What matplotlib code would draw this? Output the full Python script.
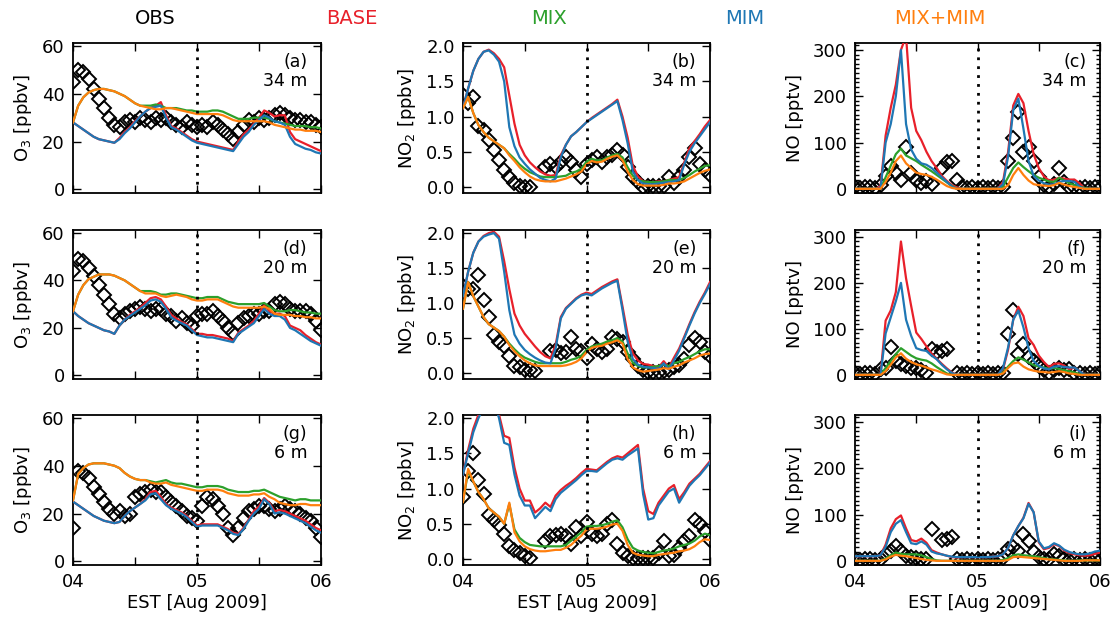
import numpy as np
import matplotlib
matplotlib.use('Agg')
import matplotlib.pyplot as plt
from matplotlib.ticker import MultipleLocator, FuncFormatter, NullLocator

nan = np.nan

# hourly samples, 04 Aug 00 EST -> 06 Aug 00 EST
hours = np.arange(49)
heights = ['34 m', '20 m', '6 m']
runs = ['BASE', 'MIX', 'MIM', 'MIX+MIM']
day_labels = ['04', '05', '06']

# ---- O3 [ppbv] ----
o3_34_obs = [45, 50, 49, 46, 42, 38, 34, 30, 27, 26, 28, 29,
             28, 30, 29, 28, 30, 29, 30, 28, 27, 26, 28, 27,
             26, 27, 26, 28, 27, 25, 23, 21, 24, 27, 29, 28,
             30, 29, 30, 31, 32, 31, 30, 29, 29, 28, 28, 27, 26]
o3_34_base = [28, 26.5, 25, 23.5, 22, 21, 20.5, 20, 19.5, 21.5, 24, 26,
              28.5, 30.5, 32.5, 34, 35, 36.5, 31, 26.5, 25.5, 24, 22.5, 21,
              20, 19.5, 19, 18.5, 18, 17.5, 17, 16.5, 20, 23, 25, 27.5,
              30, 33, 32, 30.5, 31, 31, 24, 21, 20, 19, 18, 17, 16]
o3_34_mim = [28, 26.5, 25, 23.5, 22, 21, 20.5, 20, 19.5, 21, 23.5, 25.5,
             28, 30.5, 32.5, 34, 34.5, 35, 30, 26, 25, 23.5, 22, 20.5,
             19.5, 19, 18.5, 18, 17.5, 17, 16.5, 16, 19, 22, 24, 27,
             29, 31, 30, 28.5, 28, 27, 22, 19, 18, 17, 16.5, 15.5, 15]
o3_34_mix = [28, 35, 38.5, 40.5, 41.5, 42, 42, 41.5, 41, 40, 39, 37.5,
             36, 35, 35, 35, 35.5, 35, 34, 34, 34, 33.5, 33, 33,
             32.5, 32.5, 32.5, 33, 33, 32.5, 31.5, 30.5, 29.5, 29.5, 29.5, 30,
             30, 30, 29.5, 28.5, 28, 27.5, 27, 26.5, 26.5, 26.5, 26, 26, 25.5]
o3_34_mixmim = [28, 35, 38.5, 40.5, 41.5, 42, 42, 41.5, 41, 40, 39, 37.5,
                36, 35, 34.5, 34, 33.5, 33.5, 34, 34, 33.5, 33, 32.5, 32,
                31.5, 31.5, 31.5, 31.5, 31.5, 31, 30, 29, 28.5, 28.5, 28.5, 28.5,
                28.5, 28.5, 28, 27, 26.5, 26, 25.5, 25, 25, 24.5, 24.5, 24.5, 24]

o3_20_obs = [44, 49, 48, 45, 42, 38, 34, 30, 26, 24, 26, 27,
             28, 29, 28, 27, 28, 28, 26, 25, 23, 24, 22, 21,
             25, 26, 26, 27, 25, 23, 20, 18, 22, 24, 25, 26,
             26, 27, 27, 30, 31, 30, 28, 27, 27, 27, 26, 23, 19]
o3_20_base = [27, 25, 23.5, 22, 21, 20, 19, 18.5, 17.5, 21, 23.5, 25.5,
              27, 28.5, 30.5, 32.5, 33, 32, 29, 25.5, 24, 22.5, 21.5, 19.5,
              17.5, 17.5, 17, 17, 16.5, 16, 15.5, 14.5, 18, 19.5, 21, 23,
              26, 29.5, 27, 26, 26, 25, 21, 20, 19, 17, 15.5, 14, 13]
o3_20_mim = [27, 25, 23.5, 22, 21, 20, 19, 18.5, 17.5, 21, 23.5, 25,
             26.5, 28, 29.5, 31.5, 32, 31, 28, 24.5, 23, 22, 21, 19,
             17, 16.5, 16, 16, 15.5, 15, 14.5, 14, 17.5, 19, 20.5, 22,
             25, 28, 26, 25, 25, 23.5, 20, 19, 17.5, 16, 14.5, 13.5, 12.5]
o3_20_mix = [27, 34, 38, 40.5, 41.5, 42.5, 42.5, 42.5, 42, 41, 40, 38.5,
             37, 35.5, 35.5, 35.5, 35, 34, 34, 34.5, 34.5, 34, 33.5, 33,
             32.5, 32.5, 33, 33, 33, 32, 31, 30.5, 30, 30, 30, 30,
             30, 30.5, 29, 27.5, 27, 27, 27.5, 27.5, 27, 26.5, 26.5, 26, 26]
o3_20_mixmim = [27, 34, 38, 40.5, 41.5, 42.5, 42.5, 42.5, 42, 41, 40, 38.5,
                37, 35.5, 34.5, 34.5, 34.5, 33.5, 33, 33.5, 34, 33.5, 33, 32,
                31.5, 31.5, 32, 32, 32, 31, 30, 29, 28.5, 28.5, 28.5, 28.5,
                28.5, 29, 28, 26, 25.5, 25.5, 25.5, 25, 25, 24.5, 24.5, 24, 24]

o3_6_obs = [14, 38, 37, 35, 31, 28, 25, 22, 20, 21, 19, 20,
            27, 28, 29, 30, 29, 29, 27, 25, 23, 21, 19, 18,
            17, 23, 27, 26, 23, 20, 14, 11, 14, 18, 21, 22,
            23, 23, 22, 21, 22, 23, 22, 21, 20, 18, 17, 14, 10]
o3_6_base = [25, 23.5, 22, 20.5, 19, 18, 17, 16.5, 16, 16.5, 19, 21,
             22.5, 24, 26, 29, 29.5, 27, 24, 22.5, 21.5, 20.5, 19, 17,
             15, 15.5, 15.5, 15.5, 15.5, 14.5, 13.5, 12, 11.5, 14, 17.5, 21,
             23, 26.5, 24.5, 21, 21.5, 21, 20, 19, 18, 17, 15.5, 14, 13]
o3_6_mim = [25, 23.5, 22, 20.5, 19, 18, 17, 16.5, 16, 16.5, 19, 21,
            22.5, 24, 25.5, 28, 28.5, 26, 23.5, 22, 21, 20, 18.5, 16.5,
            14.5, 15, 15, 15, 15, 14, 13, 11.5, 11, 13.5, 17, 20,
            22, 26, 24, 20, 20.5, 20, 19, 18, 17, 16, 14.5, 13, 12]
o3_6_mix = [25.5, 36.5, 39, 40.5, 41, 41, 41, 40.5, 40, 39, 37, 35.5,
            34.5, 34, 34, 33.5, 33, 33.5, 34, 33, 32.5, 32.5, 32, 31.5,
            31, 31, 31.5, 31.5, 31.5, 31, 30, 29.5, 29, 29, 29, 29.5,
            29.5, 30, 29, 28, 27, 26.5, 26, 25.5, 26, 26, 25.5, 25.5, 25.5]
o3_6_mixmim = [25.5, 36.5, 39, 40.5, 41, 41, 41, 40.5, 40, 39, 37, 35.5,
               34.5, 34, 34, 33, 32.5, 32.5, 33, 32, 31.5, 31, 30.5, 30,
               29.5, 29.5, 30, 30, 30, 29.5, 28.5, 28, 27.5, 27.5, 27.5, 28,
               28, 28.5, 27, 26, 24.5, 24, 23.5, 23.5, 24, 24, 23.5, 23.5, 23.5]

# ---- NO2 [ppbv] ----
no2_34_obs = [1.3, 1.2, 1.28, 0.86, 0.81, 0.67, 0.52, 0.38, 0.24, 0.14, 0.05, 0.02,
              0.0, 0.0, nan, nan, 0.29, 0.33, 0.29, 0.36, 0.43, 0.36, 0.24, 0.14,
              0.33, 0.38, 0.43, 0.36, 0.43, 0.45, 0.52, 0.45, 0.29, 0.14, 0.07, 0.0,
              0.02, 0.02, 0.02, 0.02, 0.14, 0.05, 0.14, 0.24, 0.43, 0.55, 0.33, 0.24, 0.17]
no2_34_base = [1.12, 1.4, 1.65, 1.82, 1.92, 1.95, 1.9, 1.82, 1.7, 1.3, 0.9, 0.6,
               0.45, 0.35, 0.28, 0.22, 0.18, 0.16, 0.17, 0.45, 0.6, 0.72, 0.78, 0.85,
               0.92, 0.98, 1.03, 1.08, 1.13, 1.18, 1.24, 1.0, 0.7, 0.3, 0.15, 0.08,
               0.07, 0.07, 0.08, 0.08, 0.1, 0.12, 0.14, 0.35, 0.55, 0.65, 0.75, 0.86, 0.95]
no2_34_mim = [1.12, 1.4, 1.65, 1.82, 1.92, 1.94, 1.88, 1.78, 1.5, 0.85, 0.58, 0.42,
              0.33, 0.25, 0.19, 0.13, 0.1, 0.08, 0.12, 0.42, 0.6, 0.72, 0.78, 0.85,
              0.92, 0.97, 1.02, 1.07, 1.12, 1.17, 1.22, 0.95, 0.62, 0.22, 0.1, 0.05,
              0.04, 0.04, 0.05, 0.06, 0.07, 0.08, 0.1, 0.32, 0.5, 0.62, 0.72, 0.82, 0.92]
no2_34_mix = [1.12, 1.28, 1.05, 0.88, 0.78, 0.7, 0.65, 0.6, 0.55, 0.47, 0.4, 0.32,
              0.26, 0.21, 0.18, 0.15, 0.14, 0.14, 0.14, 0.15, 0.16, 0.2, 0.22, 0.26,
              0.36, 0.4, 0.38, 0.38, 0.42, 0.45, 0.47, 0.42, 0.28, 0.16, 0.1, 0.08,
              0.07, 0.07, 0.07, 0.08, 0.1, 0.1, 0.1, 0.13, 0.17, 0.22, 0.26, 0.3, 0.31]
no2_34_mixmim = [1.12, 1.28, 1.05, 0.88, 0.78, 0.7, 0.65, 0.6, 0.55, 0.45, 0.37, 0.28,
                 0.21, 0.15, 0.11, 0.09, 0.08, 0.08, 0.08, 0.1, 0.12, 0.15, 0.18, 0.22,
                 0.32, 0.37, 0.35, 0.36, 0.4, 0.43, 0.45, 0.38, 0.22, 0.1, 0.04, 0.02,
                 0.02, 0.02, 0.02, 0.03, 0.05, 0.05, 0.06, 0.08, 0.12, 0.16, 0.2, 0.23, 0.25]

no2_20_obs = [1.25, 1.2, 1.2, 1.4, 1.05, 0.8, 0.55, 0.45, 0.38, 0.25, 0.1, 0.08,
              0.05, 0.05, 0.03, nan, nan, 0.31, 0.33, 0.28, 0.3, 0.52, 0.35, 0.31,
              0.21, 0.42, 0.35, 0.3, 0.35, 0.52, 0.48, 0.45, 0.3, 0.2, 0.1, 0.05,
              0.02, 0.02, 0.02, 0.03, 0.05, 0.08, 0.12, 0.2, 0.4, 0.5, 0.45, 0.3, 0.25]
no2_20_base = [1.1, 1.45, 1.72, 1.88, 1.96, 2.0, 2.02, 1.95, 1.6, 1.2, 0.85, 0.68,
               0.56, 0.47, 0.38, 0.3, 0.24, 0.21, 0.4, 0.8, 0.93, 1.0, 1.07, 1.12,
               1.15, 1.13, 1.18, 1.23, 1.27, 1.31, 1.34, 0.95, 0.55, 0.28, 0.18, 0.13,
               0.12, 0.1, 0.08, 0.17, 0.08, 0.22, 0.35, 0.52, 0.7, 0.87, 1.02, 1.15, 1.3]
no2_20_mim = [1.1, 1.45, 1.72, 1.88, 1.95, 1.98, 2.0, 1.92, 1.45, 0.9, 0.55, 0.42,
              0.33, 0.27, 0.22, 0.18, 0.15, 0.14, 0.35, 0.78, 0.92, 0.99, 1.06, 1.11,
              1.13, 1.11, 1.16, 1.21, 1.25, 1.29, 1.32, 0.9, 0.45, 0.2, 0.12, 0.09,
              0.08, 0.07, 0.06, 0.14, 0.05, 0.18, 0.32, 0.5, 0.68, 0.85, 1.0, 1.13, 1.27]
no2_20_mix = [0.92, 1.3, 1.1, 0.95, 0.8, 0.7, 0.65, 0.6, 0.52, 0.42, 0.34, 0.27,
              0.22, 0.19, 0.16, 0.14, 0.14, 0.14, 0.14, 0.14, 0.16, 0.19, 0.21, 0.25,
              0.33, 0.38, 0.4, 0.42, 0.45, 0.47, 0.5, 0.45, 0.28, 0.15, 0.1, 0.08,
              0.08, 0.09, 0.1, 0.12, 0.1, 0.14, 0.16, 0.2, 0.23, 0.27, 0.31, 0.34, 0.34]
no2_20_mixmim = [0.92, 1.3, 1.1, 0.95, 0.8, 0.7, 0.65, 0.6, 0.52, 0.4, 0.31, 0.24,
                 0.18, 0.14, 0.11, 0.1, 0.1, 0.1, 0.1, 0.1, 0.11, 0.13, 0.16, 0.21,
                 0.3, 0.36, 0.38, 0.39, 0.42, 0.44, 0.47, 0.42, 0.2, 0.08, 0.04, 0.02,
                 0.03, 0.04, 0.05, 0.07, 0.06, 0.09, 0.11, 0.15, 0.18, 0.21, 0.25, 0.27, 0.28]

no2_6_obs = [0.88, 1.25, 1.5, 1.12, 0.93, 0.62, 0.55, 0.48, 0.36, 0.18, 0.13, 0.08,
             0.04, 0.01, nan, nan, 0.25, 0.32, 0.34, 0.36, 0.32, 0.22, 0.46, 0.32,
             0.53, 0.36, 0.32, 0.36, 0.5, 0.55, 0.22, 0.08, 0.04, 0.02, 0.02, 0.02,
             0.02, 0.02, 0.08, 0.25, 0.04, 0.05, 0.15, 0.25, 0.32, 0.55, 0.5, 0.4, 0.27]
no2_6_base = [1.2, 1.55, 1.85, 2.05, 2.2, 2.3, 2.3, 2.05, 1.75, 1.72, 1.3, 1.0,
              0.83, 0.83, 0.66, 0.72, 0.8, 0.74, 0.9, 0.98, 1.04, 1.09, 1.15, 1.22,
              1.28, 1.27, 1.26, 1.32, 1.38, 1.43, 1.46, 1.44, 1.5, 1.56, 1.62, 1.0,
              0.68, 0.64, 0.8, 0.9, 1.0, 1.05, 0.85, 0.95, 1.07, 1.14, 1.21, 1.3, 1.39]
no2_6_mim = [1.2, 1.5, 1.8, 2.0, 2.15, 2.25, 2.25, 2.0, 1.65, 1.62, 1.2, 0.9,
             0.76, 0.76, 0.58, 0.66, 0.74, 0.68, 0.85, 0.94, 1.0, 1.06, 1.12, 1.19,
             1.25, 1.25, 1.24, 1.3, 1.36, 1.41, 1.43, 1.41, 1.47, 1.52, 1.57, 0.92,
             0.56, 0.58, 0.76, 0.86, 0.96, 1.0, 0.8, 0.92, 1.04, 1.12, 1.19, 1.28, 1.37]
no2_6_mix = [0.81, 1.25, 1.1, 0.95, 0.85, 0.72, 0.66, 0.6, 0.5, 0.78, 0.42, 0.3,
             0.24, 0.2, 0.19, 0.18, 0.18, 0.18, 0.18, 0.18, 0.2, 0.26, 0.32, 0.38,
             0.46, 0.47, 0.47, 0.48, 0.5, 0.53, 0.55, 0.45, 0.28, 0.16, 0.12, 0.1,
             0.09, 0.08, 0.1, 0.12, 0.13, 0.15, 0.18, 0.2, 0.22, 0.26, 0.32, 0.36, 0.34]
no2_6_mixmim = [0.81, 1.28, 1.1, 0.95, 0.85, 0.72, 0.66, 0.6, 0.5, 0.8, 0.38, 0.25,
                0.18, 0.14, 0.12, 0.11, 0.11, 0.12, 0.13, 0.13, 0.16, 0.2, 0.27, 0.33,
                0.42, 0.43, 0.43, 0.44, 0.46, 0.49, 0.5, 0.4, 0.2, 0.09, 0.06, 0.05,
                0.04, 0.04, 0.06, 0.07, 0.08, 0.09, 0.11, 0.12, 0.14, 0.18, 0.24, 0.28, 0.27]

# ---- NO [pptv] ----
no_34_obs = [3, 2, 4, 3, 2, 8, 28, 49, 35, 20, 90, 35,
             20, 13, 17, 10, nan, 46, 57, 60, 20, 3, 2, 3,
             2, 3, 2, 3, 2, 5, 60, 110, 165, 80, 90, 60,
             25, 8, 5, 10, 45, 15, 3, 4, 2, 3, 2, 3, 2]
no_34_base = [0, 0, 0, 0, 0, 5, 115, 175, 225, 300, 330, 175,
              125, 105, 80, 60, 45, 28, 17, 8, 3, 0, 0, 0,
              0, 0, 0, 0, 0, 15, 80, 180, 205, 185, 125, 75,
              45, 27, 18, 20, 24, 22, 20, 20, 12, 0, 0, 0, 0]
no_34_mim = [0, 0, 0, 0, 0, 0, 100, 140, 200, 300, 140, 85,
             65, 55, 52, 45, 35, 25, 15, 5, 0, 0, 0, 0,
             0, 0, 0, 0, 0, 10, 70, 170, 195, 130, 60, 28,
             18, 12, 9, 10, 15, 17, 17, 15, 5, 0, 0, 0, 0]
no_34_mix = [0, 0, 0, 0, 0, 0, 25, 50, 75, 87, 72, 66,
             60, 52, 45, 38, 30, 22, 14, 6, 0, 0, 0, 0,
             0, 0, 0, 0, 0, 5, 25, 45, 57, 47, 38, 30,
             24, 20, 16, 15, 24, 18, 12, 8, 5, 2, 0, 0, 0]
no_34_mixmim = [0, 0, 0, 0, 0, 0, 15, 35, 60, 72, 55, 45,
                35, 32, 30, 26, 20, 13, 6, 2, 0, 0, 0, 0,
                0, 0, 0, 0, 0, 0, 8, 30, 45, 30, 18, 10,
                8, 7, 6, 8, 13, 9, 6, 4, 2, 0, 0, 0, 0]

no_20_obs = [3, 2, 4, 3, 2, 12, 16, 60, 31, 23, 20, 15,
             16, 10, 5, 56, 49, 52, 56, nan, 3, 2, 3, 2,
             3, 2, 3, 2, 3, 5, 89, 140, 45, 67, 38, 31,
             20, 10, 5, 10, 15, 10, 12, 5, 3, 2, 3, 2, 3]
no_20_base = [0, 0, 0, 0, 0, 0, 118, 140, 180, 290, 210, 150,
              92, 78, 62, 46, 35, 24, 14, 5, 0, 0, 0, 0,
              0, 0, 0, 0, 0, 12, 55, 120, 148, 128, 80, 65,
              42, 28, 17, 24, 25, 20, 12, 16, 8, 0, 0, 0, 0]
no_20_mim = [0, 0, 0, 0, 0, 0, 90, 125, 160, 200, 120, 85,
             58, 54, 52, 42, 34, 22, 12, 4, 0, 0, 0, 0,
             0, 0, 0, 0, 0, 15, 60, 120, 140, 103, 58, 30,
             20, 14, 12, 18, 19, 17, 16, 16, 8, 0, 0, 0, 0]
no_20_mix = [0, 0, 0, 0, 0, 0, 15, 30, 45, 58, 50, 42,
             36, 33, 31, 25, 17, 10, 3, 0, 0, 0, 0, 0,
             0, 0, 0, 0, 0, 5, 18, 30, 38, 33, 27, 21,
             18, 16, 13, 15, 13, 10, 8, 5, 2, 0, 0, 0, 0]
no_20_mixmim = [0, 0, 0, 0, 0, 0, 8, 22, 38, 47, 35, 28,
                23, 20, 16, 12, 9, 5, 1, 0, 0, 0, 0, 0,
                0, 0, 0, 0, 0, 3, 15, 25, 27, 18, 12, 9,
                7, 6, 5, 6, 8, 6, 3, 2, 0, 0, 0, 0, 0]

no_6_obs = [3, 2, 4, 3, 2, 3, 14, 21, 32, 21, 10, 8,
            7, 5, 5, 68, nan, 45, 48, 52, 3, 2, 3, 2,
            3, 2, 3, 2, 3, 7, 25, 29, 21, 57, 43, 20,
            8, 5, 3, 14, 11, 3, 2, 3, 2, 3, 2, 3, 2]
no_6_base = [10, 10, 10, 10, 10, 12, 35, 70, 90, 98, 70, 45,
             42, 48, 39, 23, 18, 14, 11, 8, 7, 8, 8, 8,
             8, 8, 8, 9, 10, 14, 28, 55, 75, 93, 125, 105,
             40, 25, 28, 36, 32, 22, 17, 14, 12, 11, 12, 15, 18]
no_6_mim = [10, 10, 10, 10, 10, 12, 30, 62, 80, 88, 62, 38,
            36, 42, 35, 20, 16, 14, 11, 9, 8, 8, 8, 8,
            8, 8, 8, 9, 10, 14, 28, 55, 75, 92, 123, 105,
            42, 27, 30, 38, 33, 24, 19, 16, 14, 14, 16, 20, 22]
no_6_mix = [0, 0, 0, 0, 0, 0, 5, 12, 18, 15, 14, 14,
            14, 12, 8, 4, 1, 0, 0, 0, 0, 0, 0, 0,
            0, 0, 0, 0, 0, 2, 6, 12, 14, 12, 11, 10,
            8, 6, 4, 3, 2, 1, 0, 0, 1, 1, 1, 1, 1]
no_6_mixmim = [0, 0, 0, 0, 0, 0, 3, 9, 13, 11, 10, 8,
               6, 4, 2, 1, 0, 0, 0, 0, 0, 0, 0, 0,
               0, 0, 0, 0, 0, 0, 2, 8, 9, 8, 7, 6,
               5, 4, 3, 2, 1, 0, 0, 0, 0, 1, 1, 1, 1]

COLORS = {'OBS': 'black', 'BASE': '#e8202a', 'MIX': '#2ca02c',
          'MIM': '#1f77b4', 'MIX+MIM': '#ff7f0e'}

# species settings: ylabel, ylim, major, minor (None = no minor ticks)
SPECIES = {
    'o3': ('O$_3$ [ppbv]', (-1.5, 61.2), 20, None),
    'no2': ('NO$_2$ [ppbv]', (-0.085, 2.045), 0.5, None),
    'no': ('NO [pptv]', (-9, 315), 100, 10),
}

PANELS = [
    [('o3', o3_34_obs, o3_34_base, o3_34_mix, o3_34_mim, o3_34_mixmim),
     ('no2', no2_34_obs, no2_34_base, no2_34_mix, no2_34_mim, no2_34_mixmim),
     ('no', no_34_obs, no_34_base, no_34_mix, no_34_mim, no_34_mixmim)],
    [('o3', o3_20_obs, o3_20_base, o3_20_mix, o3_20_mim, o3_20_mixmim),
     ('no2', no2_20_obs, no2_20_base, no2_20_mix, no2_20_mim, no2_20_mixmim),
     ('no', no_20_obs, no_20_base, no_20_mix, no_20_mim, no_20_mixmim)],
    [('o3', o3_6_obs, o3_6_base, o3_6_mix, o3_6_mim, o3_6_mixmim),
     ('no2', no2_6_obs, no2_6_base, no2_6_mix, no2_6_mim, no2_6_mixmim),
     ('no', no_6_obs, no_6_base, no_6_mix, no_6_mim, no_6_mixmim)],
]

W, H = 1111, 619
COL_X = [(73, 321), (463, 710), (855, 1100)]
ROW_Y = [(43, 193), (230, 379), (415, 565)]


def day_fmt(v, _):
    """Label only whole days."""
    if abs(v - round(v)) < 1e-6 and 0 <= round(v) < len(day_labels):
        return day_labels[int(round(v))]
    return ''


def style_axis(ax, species, bottom):
    ylabel, ylim, major, minor = SPECIES[species]
    ax.set_xlim(0, 2)
    ax.set_ylim(*ylim)
    ax.xaxis.set_major_locator(MultipleLocator(0.5))
    ax.xaxis.set_minor_locator(NullLocator())
    ax.xaxis.set_major_formatter(FuncFormatter(day_fmt))
    ax.yaxis.set_major_locator(MultipleLocator(major))
    if minor:
        ax.yaxis.set_minor_locator(MultipleLocator(minor))
    else:
        ax.yaxis.set_minor_locator(NullLocator())
    if species == 'no2':
        ax.yaxis.set_major_formatter(FuncFormatter(lambda v, _: f'{v:.1f}'))
    ax.tick_params(which='both', direction='in', top=True, right=True,
                   labelsize=13, width=1.0)
    ax.tick_params(which='major', length=6, pad=6)
    ax.tick_params(which='minor', length=3)
    if not bottom:
        ax.tick_params(axis='x', labelbottom=False)
    for sp in ax.spines.values():
        sp.set_linewidth(1.3)
    ax.set_ylabel(ylabel, fontsize=13, labelpad=6)


fig = plt.figure(figsize=(W / 100, H / 100), dpi=100)
letters = iter('abcdefghi')
days = hours / 24.0

for r, row in enumerate(PANELS):
    for c, (species, obs, base, mix, mim, mixmim) in enumerate(row):
        x0, x1 = COL_X[c]
        y0, y1 = ROW_Y[r]
        ax = fig.add_axes([x0 / W, 1 - y1 / H, (x1 - x0) / W, (y1 - y0) / H])
        ax.plot(days, obs, linestyle='none', marker='D', markersize=7.5,
                mfc='none', mec='black', mew=1.4, zorder=2)
        for name, vals in zip(runs, (base, mix, mim, mixmim)):
            ax.plot(days, vals, color=COLORS[name], lw=1.6, zorder=3)
        ax.axvline(1, color='black', ls=(0, (1, 2.2)), lw=2, zorder=4)
        style_axis(ax, species, r == 2)
        ax.text(0.945, 0.935, f'({next(letters)})', transform=ax.transAxes,
                ha='right', va='top', fontsize=12.5)
        ax.text(0.945, 0.805, heights[r], transform=ax.transAxes,
                ha='right', va='top', fontsize=12.5)
        if r == 2:
            ax.set_xlabel('EST [Aug 2009]', fontsize=13, labelpad=2)

title_x = [155, 352, 549, 745, 940]
for name, tx in zip(['OBS'] + runs, title_x):
    fig.text(tx / W, 1 - 18 / H, name, ha='center', va='center', fontsize=14,
             color=COLORS[name], family=['Liberation Sans Narrow', 'DejaVu Sans'])

fig.savefig('out.png', dpi=100)
